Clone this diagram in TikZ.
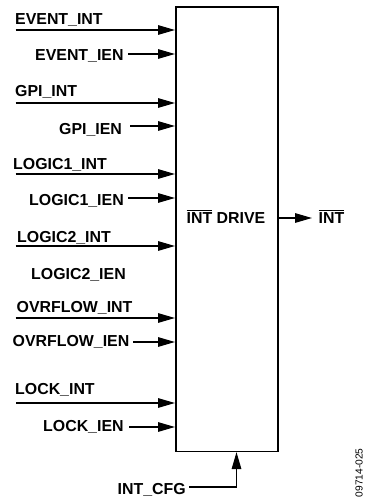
\documentclass[tikz,border=0pt]{standalone}
\usepackage{fontspec}
\setmainfont{Liberation Sans}
\usetikzlibrary{arrows.meta}
\tikzset{
  x=1pt,y=-1pt,
  lab/.style={font=\fontsize{15.9}{15.9}\selectfont\bfseries,inner sep=0pt,anchor=base west},
  sig/.style={line width=1.4pt,-{Triangle[length=17pt,width=9.5pt]}},
  blockbox/.style={draw,line width=1.6pt,inner sep=0pt,minimum width=102pt,minimum height=444pt,anchor=north west},
}
\newcommand{\barint}{$\overline{\mbox{INT}}$}
\begin{document}
\begin{tikzpicture}
\useasboundingbox (0,0) rectangle (365,500);
\node[blockbox] (box) at (175,6.5) {};
\foreach \n/\t/\lx/\ly/\sx/\ay in {
 a/EVENT\_INT/15/25/15.5/30,
 b/EVENT\_IEN/35/61/128/54,
 c/GPI\_INT/15/97/15.5/103,
 d/GPI\_IEN/59/134/130/126,
 e/LOGIC1\_INT/13/169/15.5/174,
 f/LOGIC1\_IEN/29/205/128/198,
 g/LOGIC2\_INT/17/242/15.5/246,
 i/OVRFLOW\_INT/16.5/312/15.5/318,
 j/OVRFLOW\_IEN/12.5/346/133/342,
 k/LOCK\_INT/15/394/16/403,
 l/LOCK\_IEN/43/431/129/427}{
  \node[lab] (\n) at (\lx,\ly) {\t};
  \coordinate (s\n) at (\sx,\ay);
  \draw[sig] (s\n) -- (s\n -| box.west);
}
\node[lab] (h) at (31,279) {LOGIC2\_IEN};
\node[lab] (drive) at (186.5,223) {\barint{} DRIVE};
\node[lab] (out) at (318.5,223) {\barint};
\coordinate (outs) at (box.east |- 0,218);
\draw[sig] (outs) -- (312,218) coordinate (oute);
\node[lab] (cfg) at (117.5,494) {INT\_CFG};
\coordinate (cfgs) at (189,487);
\coordinate (cfgc) at (236.5,487);
\draw[sig] (cfgs) -- (cfgc) -- (cfgc |- box.south);
\node[font=\fontsize{10.2}{10.2}\selectfont,rotate=90,inner sep=0pt,anchor=base west] (code) at (362.5,497.5) {09714-025};
\end{tikzpicture}
\end{document}
